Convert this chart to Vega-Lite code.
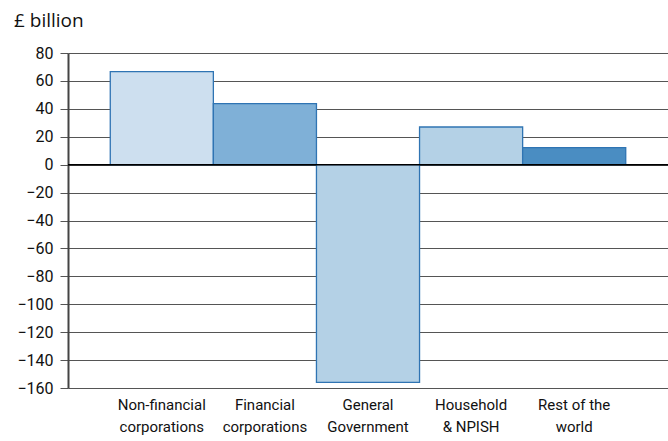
{
  "$schema": "https://vega.github.io/schema/vega-lite/v6.json",
  "width": 600,
  "height": 335,
  "autosize": {"type": "none"},
  "padding": {"left": 68, "top": 53, "right": 0, "bottom": 53},
  "background": "white",
  "title": {
    "text": "£ billion",
    "anchor": "start",
    "frame": "group",
    "dx": -54,
    "offset": 14,
    "font": "Open Sans",
    "fontSize": 19,
    "fontWeight": "normal",
    "color": "#111"
  },
  "config": {
    "view": {"stroke": null},
    "axis": {"labelColor": "#111"},
    "axisY": {
      "title": null,
      "values": [-160, -140, -120, -100, -80, -60, -40, -20, 0, 20, 40, 60, 80],
      "labelOverlap": false,
      "labelFont": "Roboto",
      "labelFontSize": 16,
      "grid": true,
      "gridColor": "#555",
      "gridWidth": 1,
      "gridOpacity": 1,
      "domain": true,
      "domainColor": "#444",
      "domainWidth": 2,
      "tickSize": 8,
      "tickColor": "#555",
      "tickWidth": 1,
      "labelPadding": 7
    }
  },
  "data": {
    "values": [
      {"sector": "Non-financial|corporations", "value": 66.7, "colour": "#cddfef"},
      {"sector": "Financial|corporations", "value": 43.8, "colour": "#7fb0d7"},
      {"sector": "General|Government", "value": -156, "colour": "#b4d1e6"},
      {"sector": "Household|& NPISH", "value": 27, "colour": "#b4d1e6"},
      {"sector": "Rest of the|world", "value": 12.2, "colour": "#4a8dc2"}
    ]
  },
  "layer": [
    {
      "mark": {"type": "bar", "stroke": "#2f74b3", "strokeWidth": 1.3},
      "encoding": {
        "x": {
          "field": "sector",
          "type": "nominal",
          "sort": null,
          "scale": {"paddingInner": 0, "paddingOuter": 0.41},
          "axis": {
            "title": null,
            "domain": false,
            "ticks": false,
            "labelAngle": 0,
            "labelPadding": 9,
            "labelLineHeight": 22,
            "labelOverlap": false,
            "labelFont": "Roboto",
            "labelFontSize": 15,
            "labelExpr": "split(datum.value, '|')"
          }
        },
        "y": {
          "field": "value",
          "type": "quantitative",
          "scale": {"domain": [-160, 80], "nice": false},
          "axis": {
            "values": [-160, -140, -120, -100, -80, -60, -40, -20, 0, 20, 40, 60, 80],
            "labelExpr": "replace(format(datum.value, 'd'), '-', '−')"
          }
        },
        "fill": {"field": "colour", "type": "nominal", "scale": null}
      }
    },
    {
      "data": {"values": [{"zero": 0}]},
      "mark": {"type": "rule", "color": "#000", "strokeWidth": 1.5},
      "encoding": {
        "y": {
          "field": "zero",
          "type": "quantitative",
          "axis": {
            "values": [-160, -140, -120, -100, -80, -60, -40, -20, 0, 20, 40, 60, 80],
            "labelExpr": "replace(format(datum.value, 'd'), '-', '−')"
          }
        }
      }
    }
  ]
}
